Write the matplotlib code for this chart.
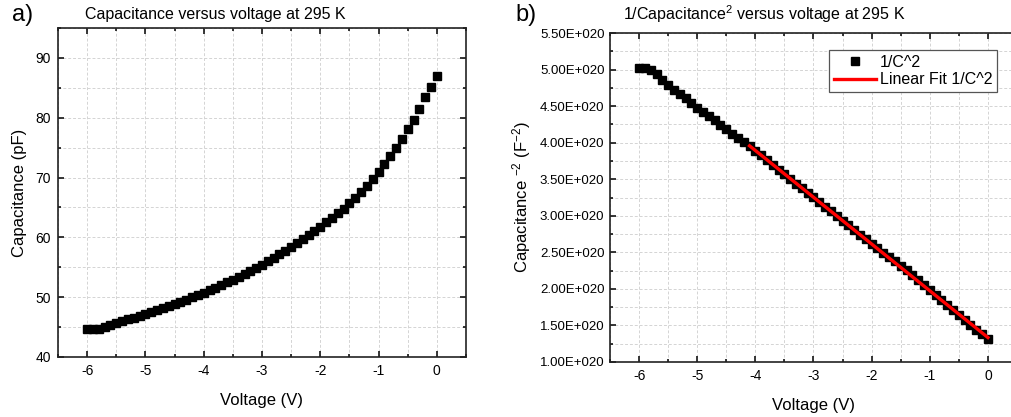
import numpy as np
import matplotlib
matplotlib.use('Agg')
import matplotlib.pyplot as plt
from matplotlib.ticker import MultipleLocator, FuncFormatter

plt.rcParams['font.family'] = ['Liberation Sans', 'DejaVu Sans']
plt.rcParams['mathtext.fontset'] = 'custom'
plt.rcParams['mathtext.rm'] = 'Liberation Sans'
plt.rcParams['mathtext.it'] = 'Liberation Sans:italic'
plt.rcParams['axes.unicode_minus'] = False

# bias voltage (V): -6.0 ... 0.0 in 0.1 V steps
voltage = np.round(np.arange(-60, 1) / 10, 1)

# capacitance (pF) read off panel a)
capacitance = [
    44.60, 44.65, 44.75, 45.00, 45.35, 45.70, 46.00, 46.30, 46.60, 46.90,   # -6.0 .. -5.1
    47.25, 47.55, 47.85, 48.20, 48.55, 48.90, 49.25, 49.60, 49.95, 50.30,   # -5.0 .. -4.1
    50.70, 51.12, 51.56, 52.01, 52.47, 52.95, 53.43, 53.92, 54.43, 54.95,   # -4.0 .. -3.1
    55.45, 56.00, 56.58, 57.18, 57.80, 58.42, 59.05, 59.70, 60.40, 61.10,   # -3.0 .. -2.1
    61.80, 62.55, 63.30, 64.05, 64.80, 65.70, 66.60, 67.60, 68.65, 69.75,   # -2.0 .. -1.1
    70.95, 72.25, 73.55, 74.95, 76.45, 78.05, 79.70, 81.45, 83.40, 85.20,   # -1.0 .. -0.1
    87.00,                                                                   #  0.0
]
capacitance = np.array(capacitance)

# 1/C^2 in F^-2
inv_c2 = 1.0 / (capacitance * 1e-12) ** 2

# linear fit range used in panel b)
fit_start = -4.1
mask = voltage >= fit_start
slope, intercept = np.polyfit(voltage[mask], inv_c2[mask], 1)
fit_v = np.array([fit_start, 0.0])
fit_y = slope * fit_v + intercept

fig = plt.figure(figsize=(10.12, 4.17), dpi=100)
ax1 = fig.add_axes([58/1012, 1 - 357/417, 408/1012, 329/417])
ax2 = fig.add_axes([610/1012, 1 - 362/417, 407/1012, 329/417])

grid_kw = dict(color='#d4d4d4', linestyle=(0, (3, 2)), linewidth=0.7)


def style_axes(ax):
    ax.set_xlim(-6.5, 0.5)
    ax.xaxis.set_major_locator(MultipleLocator(1))
    ax.xaxis.set_minor_locator(MultipleLocator(0.5))
    ax.grid(True, which='both', **grid_kw)
    ax.set_axisbelow(True)
    for s in ax.spines.values():
        s.set_linewidth(1.2)
        s.set_color('#222222')
    ax.tick_params(which='both', direction='out', bottom=True, left=True, width=1.1,
                   labelsize=10, pad=5)
    ax.tick_params(which='both', direction='in', top=True, right=True)
    ax.tick_params(which='major', length=4.5)
    ax.tick_params(which='minor', length=2.5)
    ax.set_xlabel('Voltage (V)', fontsize=12, labelpad=11)


# panel a)
ax1.plot(voltage, capacitance, 's', color='black', markersize=5.8)
style_axes(ax1)
ax1.set_ylim(40, 95)
ax1.yaxis.set_major_locator(MultipleLocator(10))
ax1.yaxis.set_minor_locator(MultipleLocator(5))
ax1.set_ylabel('Capacitance (pF)', fontsize=12, labelpad=6)

# panel b)
ax2.plot(voltage, inv_c2, 's', color='black', markersize=5.8, label='1/C^2')
ax2.plot(fit_v, fit_y, color='red', linewidth=2.4, label='Linear Fit 1/C^2')
style_axes(ax2)
ax2.set_ylim(1.0e20, 5.5e20)
ax2.yaxis.set_major_locator(MultipleLocator(0.5e20))
ax2.yaxis.set_minor_locator(MultipleLocator(0.25e20))
ax2.yaxis.set_major_formatter(FuncFormatter(lambda v, p: f'{v / 1e20:.2f}E+020'))
ax2.tick_params(axis='y', labelsize=9.5, pad=4)
ax2.set_ylabel('Capacitance $^{-2}$ (F$^{-2}$)', fontsize=12, labelpad=5)
leg = ax2.legend(loc='upper right', bbox_to_anchor=(0.951, 0.948), borderaxespad=0,
                 fontsize=11.5, fancybox=False, edgecolor='#555555', framealpha=1,
                 handlelength=2.6, handletextpad=0.25, borderpad=0.3, labelspacing=0.15)
leg.get_frame().set_linewidth(0.9)

# titles and panel letters
fig.text(85/1012, 1 - 14/417, 'Capacitance versus voltage at 295 K', fontsize=11.5, va='center')
fig.text(623/1012, 1 - 14/417, '1/Capacitance$^2$ versus voltage at 295 K', fontsize=11.5, va='center')
fig.text(12/1012, 1 - 15/417, 'a)', fontsize=17, va='center')
fig.text(515/1012, 1 - 15/417, 'b)', fontsize=17, va='center')

fig.savefig('out.png', dpi=100)
